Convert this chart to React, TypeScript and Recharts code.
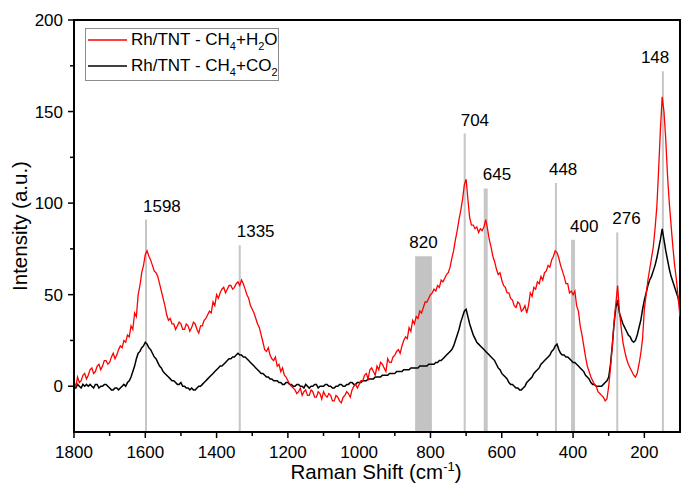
import React from 'react';
import {
  LineChart,
  Line,
  XAxis,
  YAxis,
  ReferenceLine,
  ReferenceArea,
  ReferenceDot,
  Legend,
} from 'recharts';

const FONT = "'Liberation Sans', Arial, sans-serif";

// Raman shift (cm-1), sampled every 5 cm-1
const ramanShift = [
  1800, 1795, 1790, 1785, 1780, 1775, 1770, 1765, 1760, 1755,
  1750, 1745, 1740, 1735, 1730, 1725, 1720, 1715, 1710, 1705,
  1700, 1695, 1690, 1685, 1680, 1675, 1670, 1665, 1660, 1655,
  1650, 1645, 1640, 1635, 1630, 1625, 1620, 1615, 1610, 1605,
  1600, 1595, 1590, 1585, 1580, 1575, 1570, 1565, 1560, 1555,
  1550, 1545, 1540, 1535, 1530, 1525, 1520, 1515, 1510, 1505,
  1500, 1495, 1490, 1485, 1480, 1475, 1470, 1465, 1460, 1455,
  1450, 1445, 1440, 1435, 1430, 1425, 1420, 1415, 1410, 1405,
  1400, 1395, 1390, 1385, 1380, 1375, 1370, 1365, 1360, 1355,
  1350, 1345, 1340, 1335, 1330, 1325, 1320, 1315, 1310, 1305,
  1300, 1295, 1290, 1285, 1280, 1275, 1270, 1265, 1260, 1255,
  1250, 1245, 1240, 1235, 1230, 1225, 1220, 1215, 1210, 1205,
  1200, 1195, 1190, 1185, 1180, 1175, 1170, 1165, 1160, 1155,
  1150, 1145, 1140, 1135, 1130, 1125, 1120, 1115, 1110, 1105,
  1100, 1095, 1090, 1085, 1080, 1075, 1070, 1065, 1060, 1055,
  1050, 1045, 1040, 1035, 1030, 1025, 1020, 1015, 1010, 1005,
  1000, 995, 990, 985, 980, 975, 970, 965, 960, 955,
  950, 945, 940, 935, 930, 925, 920, 915, 910, 905,
  900, 895, 890, 885, 880, 875, 870, 865, 860, 855,
  850, 845, 840, 835, 830, 825, 820, 815, 810, 805,
  800, 795, 790, 785, 780, 775, 770, 765, 760, 755,
  750, 745, 740, 735, 730, 725, 720, 715, 710, 705,
  700, 695, 690, 685, 680, 675, 670, 665, 660, 655,
  650, 645, 640, 635, 630, 625, 620, 615, 610, 605,
  600, 595, 590, 585, 580, 575, 570, 565, 560, 555,
  550, 545, 540, 535, 530, 525, 520, 515, 510, 505,
  500, 495, 490, 485, 480, 475, 470, 465, 460, 455,
  450, 445, 440, 435, 430, 425, 420, 415, 410, 405,
  400, 395, 390, 385, 380, 375, 370, 365, 360, 355,
  350, 345, 340, 335, 330, 325, 320, 315, 310, 305,
  300, 295, 290, 285, 280, 275, 270, 265, 260, 255,
  250, 245, 240, 235, 230, 225, 220, 215, 210, 205,
  200, 195, 190, 185, 180, 175, 170, 165, 160, 155,
  150, 145, 140, 135, 130, 125, 120, 115, 110, 105,
  100,
];

// Rh/TNT - CH4+H2O (red)
const h2oIntensity = [
  2, 0, 5, 2, 3, 6, 7, 4, 6, 9,
  10, 7, 8, 11, 12, 9, 11, 14, 14, 12,
  13, 16, 18, 15, 17, 20, 22, 21, 25, 24,
  28, 27, 33, 31, 40, 38, 50, 55, 62, 66,
  72, 74, 71, 69, 66, 63, 62, 60, 56, 52,
  48, 44, 39, 36, 37, 34, 34, 31, 33, 35,
  34, 31, 31, 34, 33, 30, 32, 35, 34, 31,
  29, 33, 33, 36, 37, 39, 41, 40, 46, 44,
  50, 48, 51, 53, 54, 51, 53, 55, 55, 53,
  54, 56, 57, 55, 58, 56, 53, 50, 48, 44,
  42, 40, 37, 34, 32, 28, 24, 20, 19, 21,
  17, 15, 14, 16, 11, 12, 8, 10, 6, 5,
  3, 1, 0, -1, -2, -4, -3, -1, -5, -3,
  -2, -5, -5, -2, -3, -6, -6, -3, -4, -7,
  -3, -5, -6, -4, -5, -8, -8, -5, -6, -8,
  -9, -6, -5, -3, -4, -6, -2, 0, 1, -1,
  1, 3, 3, 6, 7, 4, 9, 10, 8, 6,
  11, 9, 13, 12, 10, 8, 15, 13, 13, 16,
  17, 19, 20, 18, 22, 25, 27, 26, 32, 30,
  36, 34, 38, 37, 41, 40, 43, 46, 46, 48,
  50, 51, 53, 52, 55, 54, 58, 57, 59, 61,
  62, 65, 70, 74, 80, 85, 91, 96, 102, 110,
  113, 102, 92, 88, 88, 86, 87, 84, 86, 85,
  87, 91, 86, 80, 76, 71, 68, 64, 61, 62,
  58, 55, 54, 51, 51, 48, 47, 44, 43, 46,
  45, 41, 42, 44, 40, 44, 51, 49, 54, 53,
  57, 56, 60, 58, 62, 63, 66, 65, 69, 71,
  74, 73, 70, 66, 63, 60, 56, 56, 51, 52,
  50, 52, 44, 41, 33, 28, 22, 16, 11, 8,
  5, 3, 1, 0, -3, -4, -5, -6, -8, -7,
  0, 10, 22, 35, 45, 55, 41, 32, 24, 19,
  15, 12, 10, 8, 6, 5, 7, 12, 18, 26,
  42, 50, 58, 64, 70, 76, 86, 98, 118, 140,
  158, 150, 135, 115, 100, 88, 76, 66, 58, 48,
  38,
];

// Rh/TNT - CH4+CO2 (black)
const co2Intensity = [
  0, -1, 1, 0, -1, 1, 0, 1, 0, 1,
  0, -1, 1, 1, -1, 0, 0, 1, 1, 0,
  -1, -2, -2, -1, -1, -2, -1, 0, 1, 0,
  2, 3, 5, 8, 11, 15, 18, 19, 21, 22,
  24, 23, 21, 20, 18, 16, 15, 13, 11, 10,
  8, 7, 6, 5, 4, 3, 3, 2, 1, 1,
  2, 0, 0, -1, -1, -2, -1, -2, -2, -1,
  0, 0, 1, 2, 3, 4, 5, 6, 7, 8,
  9, 10, 11, 11, 12, 13, 14, 15, 15, 16,
  16, 17, 18, 17, 17, 16, 16, 15, 14, 13,
  12, 11, 10, 9, 8, 7, 7, 6, 5, 5,
  4, 4, 3, 3, 3, 2, 2, 1, 1, 2,
  2, 1, 1, 0, 0, 1, 1, 0, 0, -1,
  1, 0, -1, 0, 0, 1, 1, -1, 0, 0,
  0, 1, 1, 0, 0, -1, -1, 0, 0, 1,
  1, 0, 0, 1, 1, 2, 2, 1, 1, 2,
  2, 2, 3, 3, 3, 4, 4, 4, 4, 5,
  5, 5, 5, 6, 6, 6, 6, 7, 7, 7,
  7, 8, 8, 8, 8, 9, 9, 9, 9, 10,
  10, 10, 10, 10, 11, 11, 11, 11, 11, 12,
  12, 12, 12, 13, 13, 14, 14, 15, 16, 17,
  18, 19, 20, 22, 25, 28, 31, 35, 38, 41,
  42, 38, 34, 31, 28, 26, 24, 23, 22, 21,
  20, 19, 18, 17, 16, 15, 14, 12, 10, 9,
  7, 6, 5, 4, 2, 1, 1, 0, -1, -1,
  -2, -2, -1, 0, 2, 3, 4, 5, 7, 8,
  9, 10, 12, 13, 14, 15, 16, 17, 19, 20,
  22, 23, 20, 18, 17, 17, 16, 16, 15, 14,
  13, 13, 12, 11, 10, 9, 8, 6, 5, 4,
  2, 1, 1, 0, 0, 0, 0, 1, 2, 3,
  5, 12, 22, 34, 43, 47, 40, 37, 34, 32,
  30, 28, 27, 25, 24, 25, 28, 32, 36, 42,
  47, 51, 55, 58, 60, 63, 66, 70, 75, 80,
  86, 80, 74, 69, 64, 60, 57, 54, 51, 48,
  44,
];

// axis ticks
const xTicks = [1800, 1700, 1600, 1500, 1400, 1300, 1200, 1100, 1000, 900, 800, 700, 600, 500, 400, 300, 200];
const xLabelled = [1800, 1600, 1400, 1200, 1000, 800, 600, 400, 200];
const yTicks = [0, 25, 50, 75, 100, 125, 150, 175, 200];
const yLabelled = [0, 50, 100, 150, 200];

// peak markers
const peakShift = [1598, 1335, 704, 645, 448, 400, 276, 148];
const peakTop = [91, 77, 138, 108, 111, 80, 84, 172];
const peakLabel = ['1598', '1335', '704', '645', '448', '400', '276', '148'];
const peakThick = [false, false, false, true, false, true, false, false];
const peakLabelDx = [-3, -3, -4, -3, -7, -3, -5, -22];

// band marker
const bandFrom = 843;
const bandTo = 796;
const bandTop = 71;
const bandLabel = '820';

const tableData = ramanShift.map((x, i) => ({ x, h2o: h2oIntensity[i], co2: co2Intensity[i] }));

const XTick = (props: any) => {
  const { x, y, payload } = props;
  const major = xLabelled.includes(payload.value);
  return (
    <g>
      <line x1={x} x2={x} y1={y} y2={y + (major ? 6 : 4)} stroke="#000" strokeWidth={1.5} />
      {major && (
        <text x={x} y={y + 25.5} textAnchor="middle" fontSize={17} fontFamily={FONT} fill="#000">
          {payload.value}
        </text>
      )}
    </g>
  );
};

const YTick = (props: any) => {
  const { x, y, payload } = props;
  const major = yLabelled.includes(payload.value);
  return (
    <g>
      <line x1={x} x2={x - (major ? 6 : 4)} y1={y} y2={y} stroke="#000" strokeWidth={1.5} />
      {major && (
        <text x={x - 11} y={y + 6} textAnchor="end" fontSize={17} fontFamily={FONT} fill="#000">
          {payload.value}
        </text>
      )}
    </g>
  );
};

const subStyle: React.CSSProperties = { fontSize: 11, position: 'relative', top: 5, lineHeight: 0 };

const LegendBox = () => (
  <div
    style={{
      boxSizing: 'border-box',
      width: 194,
      height: 53,
      border: '1px solid #8c8c8c',
      background: '#fff',
      fontFamily: FONT,
      fontSize: 17,
      color: '#000',
      position: 'relative',
    }}
  >
    {[
      { color: '#ff0000', parts: ['Rh/TNT - CH', '4', '+H', '2', 'O'] },
      { color: '#000000', parts: ['Rh/TNT - CH', '4', '+CO', '2', ''] },
    ].map((row, i) => (
      <div
        key={i}
        style={{
          position: 'absolute',
          left: 0,
          top: i === 0 ? 0 : 26,
          height: 22,
          display: 'flex',
          alignItems: 'center',
          whiteSpace: 'nowrap',
        }}
      >
        <svg width={43} height={4} style={{ display: 'block' }}>
          <line x1={2} x2={41} y1={2} y2={2} stroke={row.color} strokeWidth={1.5} />
        </svg>
        <span style={{ marginLeft: 2 }}>
          {row.parts[0]}
          <span style={subStyle}>{row.parts[1]}</span>
          {row.parts[2]}
          <span style={subStyle}>{row.parts[3]}</span>
          {row.parts[4]}
        </span>
      </div>
    ))}
  </div>
);

const PeakText = (text: string, dx: number, anchor: 'start' | 'middle' | 'end') => (p: any) => (
  <text x={p.cx + dx} y={p.cy - 8} textAnchor={anchor} fontSize={17} fontFamily={FONT} fill="#000">
    {text}
  </text>
);

export default function App() {
  return (
    <div style={{ position: 'absolute', left: 0, top: 0, background: '#fff' }}>
      <LineChart data={tableData} width={681} height={485} margin={{ top: 20, right: 1, bottom: 0, left: 0 }}>
        <XAxis
          dataKey="x"
          type="number"
          domain={[100, 1800]}
          reversed
          ticks={xTicks}
          interval={0}
          tickSize={0}
          tickMargin={0}
          tick={<XTick />}
          height={53}
          axisLine={{ stroke: '#000', strokeWidth: 2 }}
          allowDataOverflow
          label={() => (
            <text x={376} y={479} textAnchor="middle" fontSize={20.5} fontFamily={FONT} fill="#000">
              Raman Shift (cm
              <tspan dy={-8} fontSize={13}>-1</tspan>
              <tspan dy={8}>)</tspan>
            </text>
          )}
        />
        <YAxis
          type="number"
          domain={[-25, 200]}
          ticks={yTicks}
          interval={0}
          tickSize={0}
          tickMargin={0}
          tick={<YTick />}
          width={74}
          axisLine={{ stroke: '#000', strokeWidth: 2 }}
          allowDataOverflow
          label={() => (
            <text
              x={27}
              y={226}
              transform="rotate(-90 27 226)"
              textAnchor="middle"
              fontSize={20.5}
              fontFamily={FONT}
              fill="#000"
            >
              Intensity (a.u.)
            </text>
          )}
        />
        <ReferenceArea x1={bandFrom} x2={bandTo} y1={-25} y2={bandTop} fill="#c3c3c3" fillOpacity={1} stroke="none" />
        {peakShift.map((s, i) => (
          <ReferenceLine
            key={'pl' + i}
            segment={[
              { x: s, y: -25 },
              { x: s, y: peakTop[i] },
            ]}
            stroke="#c6c6c6"
            strokeWidth={peakThick[i] ? 4 : 2}
          />
        ))}
        <Line
          dataKey="co2"
          stroke="#000"
          strokeWidth={1.5}
          dot={false}
          isAnimationActive={false}
          name="Rh/TNT - CH4+CO2"
        />
        <Line
          dataKey="h2o"
          stroke="#ff0000"
          strokeWidth={1.3}
          dot={false}
          isAnimationActive={false}
          name="Rh/TNT - CH4+H2O"
        />
        {peakShift.map((s, i) => (
          <ReferenceDot
            key={'pt' + i}
            x={s}
            y={peakTop[i]}
            r={0}
            shape={PeakText(peakLabel[i], peakLabelDx[i], 'start')}
          />
        ))}
        <ReferenceDot
          x={(bandFrom + bandTo) / 2}
          y={bandTop}
          r={0}
          shape={PeakText(bandLabel, 0, 'middle')}
        />
        <ReferenceArea
          x1={1800}
          x2={100}
          y1={-25}
          y2={200}
          fill="none"
          stroke="#000"
          strokeWidth={2}
          ifOverflow="visible"
        />
        <Legend
          layout="horizontal"
          verticalAlign="middle"
          align="center"
          content={() => <LegendBox />}
          wrapperStyle={{ position: 'absolute', left: 85, top: 28, width: 194, height: 53 }}
        />
      </LineChart>
    </div>
  );
}
